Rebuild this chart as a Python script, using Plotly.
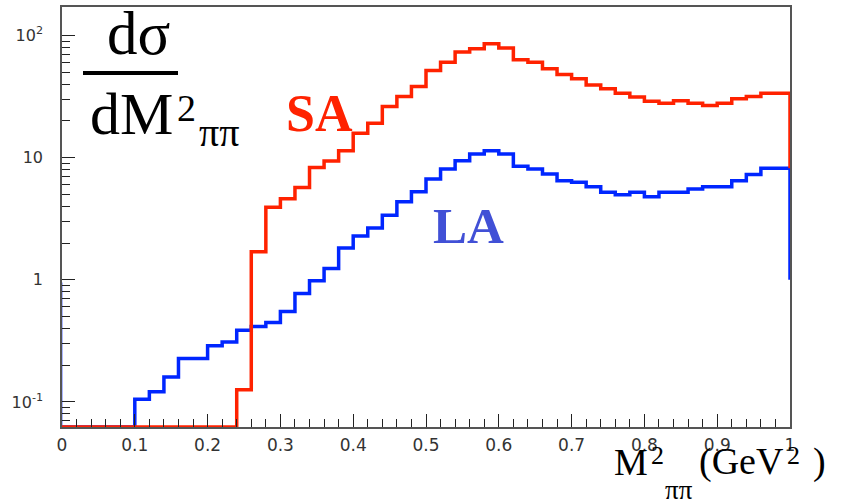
import math
import plotly.graph_objects as go

# ---------------- data ----------------
BIN_WIDTH = 0.02
N_BINS = 50
bin_lo = [round(i * BIN_WIDTH, 2) for i in range(N_BINS)]

# SA histogram (0 = empty bin)
SA = [0] * 12 + [0.126, 1.7, 3.92, 4.6, 5.7, 8.3, 9.4, 11.4, 15.8, 19.1, 26.2, 31.6,
                 38.2, 51.6, 60.5, 73.1, 77.8, 85.5, 78.8, 63.2, 60.5, 53.3, 47.9,
                 44.2, 39.4, 36.6, 33.7, 31.3, 29.0, 27.9, 29.2, 27.9, 26.7, 27.9,
                 30.3, 31.6, 33.7, 33.7]
# LA histogram
LA = [0] * 5 + [0.105, 0.121, 0.160, 0.227, 0.227, 0.288, 0.31, 0.387, 0.415, 0.448,
                0.55, 0.774, 0.98, 1.24, 1.82, 2.28, 2.65, 3.37, 4.35, 5.26, 6.69,
                8.08, 9.45, 10.7, 11.4, 10.7, 8.5, 8.08, 7.35, 6.48, 6.29, 5.78, 5.2,
                4.97, 5.2, 4.79, 5.2, 5.2, 5.54, 5.78, 5.78, 6.48, 7.26, 8.19, 8.19]
LA_END_DROP = 1.0      # level the LA outline drops to at x=1
LA_START_EDGE = 0.95   # thin LA edge drawn at x=0

x_ticks = [0, 0.1, 0.2, 0.3, 0.4, 0.5, 0.6, 0.7, 0.8, 0.9, 1]
x_ticktext = ["0", "0.1", "0.2", "0.3", "0.4", "0.5", "0.6", "0.7", "0.8", "0.9", "1"]
y_ticks = [0.1, 1, 10, 100]
y_ticktext = ["10<sup>-1</sup>", "1", "10", "10<sup>2</sup>"]

Y_LOG_MIN, Y_LOG_MAX = -1.205, 2.233
FLOOR = 10 ** Y_LOG_MIN

RED = "#ff2200"
BLUE = "#0026ff"
LA_TEXT = "#4150d6"
SERIF = "Liberation Serif, Times New Roman, serif"

def step_xy(vals, end_drop):
    ys = [v if v > 0 else FLOOR for v in vals]
    xs = bin_lo + [1.0, 1.0]
    ys = ys + [ys[-1], end_drop]
    return xs, ys

fig = go.Figure()

# LA first, SA on top
lx, ly = step_xy(LA, LA_END_DROP)
fig.add_trace(go.Scatter(x=lx, y=ly, mode="lines", line=dict(color=BLUE, width=3.5, shape="hv"),
                         showlegend=False, hoverinfo="skip"))
fig.add_trace(go.Scatter(x=[0, 0], y=[FLOOR, LA_START_EDGE], mode="lines",
                         line=dict(color="#5a73ff", width=1), showlegend=False, hoverinfo="skip"))
sx, sy = step_xy(SA, LA[-1])
fig.add_trace(go.Scatter(x=sx, y=sy, mode="lines", line=dict(color=RED, width=3.5, shape="hv"),
                         showlegend=False, hoverinfo="skip"))

W, H = 852, 504
L, R, T, B = 62, 62, 7, 77
PW, PH = W - L - R, H - T - B

def px(x):
    return (x - L) / PW

def py(y):
    return 1 - (y - T) / PH

ann = []
def text(t, x, baseline, size, color="black", xanchor="left", bold=False):
    """Place text so that its baseline sits at the given pixel row."""
    if bold:
        t = "<b>" + t + "</b>"
    yc = baseline - 0.38 * size
    ann.append(dict(text=t, x=px(x), y=py(yc), xref="paper", yref="paper", xanchor=xanchor,
                    yanchor="middle", showarrow=False, font=dict(family=SERIF, size=size, color=color)))

# dσ / dM²ππ
text("dσ", 138, 57, 61, xanchor="center")
text("dM", 88, 137, 60)
text("2", 175, 122, 38)
text("ππ", 197, 148, 40)
# series labels
text("SA", 284, 133, 52, color=RED, bold=True)
text("LA", 431, 245, 51, color=LA_TEXT, bold=True)
# x-axis title  M²ππ (GeV²)
text("M", 612, 476, 38)
text("2", 649, 465, 26)
text("ππ", 663, 500, 27)
text("(GeV", 697, 476, 38)
text("2", 785, 465, 26)
text(")", 811, 476, 38)

fig.update_layout(
    width=W, height=H,
    margin=dict(l=L, r=R, t=T, b=B, pad=0, autoexpand=False),
    paper_bgcolor="white", plot_bgcolor="white",
    annotations=ann,
    shapes=[dict(type="line", xref="paper", yref="paper", x0=px(83), x1=px(178), y0=py(73), y1=py(73),
                 line=dict(color="black", width=4))],
    font=dict(family="DejaVu Sans", size=17, color="#333"),
)
fig.update_xaxes(range=[0, 1], showgrid=False, zeroline=False, showline=True, linecolor="#555",
                 linewidth=1.5, mirror=True, ticks="inside", ticklen=13, tickwidth=1, tickcolor="#222",
                 tickvals=x_ticks, ticktext=x_ticktext, ticklabelstandoff=2,
                 minor=dict(ticks="inside", ticklen=8, tickwidth=1, tickcolor="#222", dtick=0.02, showgrid=False))
y_minor = [m * 10 ** e for e in range(-2, 3) for m in range(2, 10)
           if Y_LOG_MIN < math.log10(m * 10 ** e) < Y_LOG_MAX]
fig.update_yaxes(type="log", range=[Y_LOG_MIN, Y_LOG_MAX], showgrid=False, zeroline=False, showline=True,
                 linecolor="#555", linewidth=1.5, mirror=True, ticks="inside", ticklen=13, tickwidth=1,
                 tickcolor="#222", tickvals=y_ticks, ticktext=y_ticktext, ticklabelstandoff=14,
                 tickfont=dict(size=16),
                 minor=dict(ticks="inside", ticklen=8, tickwidth=1, tickcolor="#222", tickvals=y_minor,
                            showgrid=False))

fig.write_html("out.html", config={"displayModeBar": False},
               post_script="document.body.style.margin='0';")
